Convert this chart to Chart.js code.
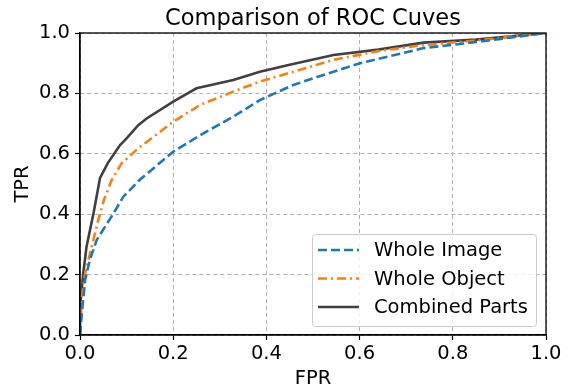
<!DOCTYPE html>
<html><head><meta charset="utf-8">
<script src="https://cdn.jsdelivr.net/npm/chart.js@4/dist/chart.umd.min.js"></script>
<style>html,body{margin:0;padding:0;background:#fff}#wrap{width:570px;height:389px}</style>
</head><body><div id="wrap"><canvas id="c" width="570" height="389"></canvas></div>
<script>
const titleText = "Comparison of ROC Cuves";
const seriesNames = ["Whole Image", "Whole Object", "Combined Parts"];
const tickValues = [0, 0.2, 0.4, 0.6, 0.8, 1.0];

const imageFPR = [0, 0.004, 0.011, 0.021, 0.036, 0.072, 0.093, 0.129, 0.2, 0.265, 0.329, 0.386, 0.458, 0.5, 0.601, 0.737, 0.85, 1.0];
const imageTPR = [0, 0.073, 0.182, 0.248, 0.315, 0.403, 0.458, 0.515, 0.607, 0.668, 0.723, 0.778, 0.828, 0.85, 0.9, 0.95, 0.97, 1.0];

const objectFPR = [0, 0.004, 0.011, 0.025, 0.043, 0.052, 0.068, 0.089, 0.125, 0.2, 0.258, 0.329, 0.386, 0.45, 0.544, 0.64, 0.737, 0.85, 1.0];
const objectTPR = [0, 0.127, 0.204, 0.292, 0.403, 0.45, 0.513, 0.568, 0.618, 0.706, 0.762, 0.806, 0.839, 0.868, 0.911, 0.94, 0.96, 0.975, 1.0];

const partsFPR = [0, 0, 0.007, 0.014, 0.029, 0.043, 0.06, 0.086, 0.10, 0.125, 0.143, 0.2, 0.25, 0.329, 0.386, 0.45, 0.544, 0.64, 0.737, 0.85, 1.0];
const partsTPR = [0, 0.094, 0.204, 0.292, 0.403, 0.52, 0.57, 0.629, 0.651, 0.695, 0.717, 0.773, 0.817, 0.844, 0.872, 0.895, 0.927, 0.945, 0.968, 0.978, 1.0];

const pts = (xs, ys) => xs.map((x, i) => ({x: x, y: ys[i]}));
const FONT = "'DejaVu Sans', sans-serif";

const boxPlugin = {
  id: 'box',
  afterDraw(chart) {
    const ctx = chart.ctx, a = chart.chartArea;
    ctx.save();
    ctx.strokeStyle = '#000'; ctx.lineWidth = 1.3; ctx.setLineDash([]);
    ctx.strokeRect(a.left, a.top, a.right - a.left, a.bottom - a.top);
    // title
    ctx.fillStyle = '#000'; ctx.font = "22.5px " + FONT;
    ctx.textAlign = 'center'; ctx.textBaseline = 'alphabetic';
    ctx.fillText(titleText, (a.left + a.right) / 2, 24.5);
    // legend
    const lx = 312, ly = 234, lw = 224, lh = 92;
    ctx.fillStyle = 'rgba(255,255,255,0.8)';
    ctx.strokeStyle = '#cccccc'; ctx.lineWidth = 1;
    ctx.beginPath();
    if (ctx.roundRect) ctx.roundRect(lx + 0.5, ly + 0.5, lw, lh, 3); else ctx.rect(lx + 0.5, ly + 0.5, lw, lh);
    ctx.fill(); ctx.stroke();
    chart.data.datasets.forEach((ds, i) => {
      const y = 250 + i * 28.5;
      ctx.strokeStyle = ds.borderColor; ctx.lineWidth = ds.borderWidth;
      ctx.setLineDash(ds.borderDash || []);
      ctx.beginPath(); ctx.moveTo(318, y); ctx.lineTo(359, y); ctx.stroke();
      ctx.setLineDash([]);
      ctx.fillStyle = '#000'; ctx.font = "19.5px " + FONT;
      ctx.textAlign = 'left'; ctx.textBaseline = 'middle';
      ctx.fillText(ds.label, 374, y + 1);
    });
    ctx.restore();
  }
};

const gridOpts = {color: '#b0b0b0', lineWidth: 1, tickLength: 5, tickColor: '#000', tickBorderDash: [], tickWidth: 1.2};

new Chart(document.getElementById('c'), {
  type: 'line',
  data: {
    datasets: [
      {label: seriesNames[0], data: pts(imageFPR, imageTPR), borderColor: '#1f77b4', borderWidth: 2.6, borderDash: [9, 4], pointRadius: 0, fill: false, tension: 0},
      {label: seriesNames[1], data: pts(objectFPR, objectTPR), borderColor: '#ff7f0e', borderWidth: 2.6, borderDash: [9, 4, 2, 4], pointRadius: 0, fill: false, tension: 0},
      {label: seriesNames[2], data: pts(partsFPR, partsTPR), borderColor: '#404040', borderWidth: 2.6, pointRadius: 0, fill: false, tension: 0}
    ]
  },
  options: {
    responsive: false, animation: false, devicePixelRatio: 1,
    layout: {padding: {top: 33, right: 24, left: 0, bottom: 0}},
    plugins: {legend: {display: false}, title: {display: false}, tooltip: {enabled: false}},
    scales: {
      x: {
        type: 'linear', min: 0, max: 1,
        afterBuildTicks: s => { s.ticks = tickValues.map(v => ({value: v})); },
        afterFit: s => { s.height = 54; },
        ticks: {color: '#000', font: {family: FONT, size: 19.5}, padding: 2, callback: v => v.toFixed(1), maxRotation: 0},
        grid: gridOpts,
        border: {display: true, color: '#000', width: 1.3, dash: [4, 3]},
        title: {display: true, text: 'FPR', color: '#000', font: {family: FONT, size: 19.5, lineHeight: 1.0}, padding: {top: 0, bottom: 0}}
      },
      y: {
        type: 'linear', min: 0, max: 1,
        afterBuildTicks: s => { s.ticks = tickValues.map(v => ({value: v})); },
        afterFit: s => { s.width = 80; },
        ticks: {color: '#000', font: {family: FONT, size: 19.5}, padding: 5, callback: v => v.toFixed(1)},
        grid: gridOpts,
        border: {display: true, color: '#000', width: 1.3, dash: [4, 3]},
        title: {display: true, text: 'TPR', color: '#000', font: {family: FONT, size: 19.5}, padding: {top: 11, bottom: 2}}
      }
    }
  },
  plugins: [boxPlugin]
});
</script></body></html>
